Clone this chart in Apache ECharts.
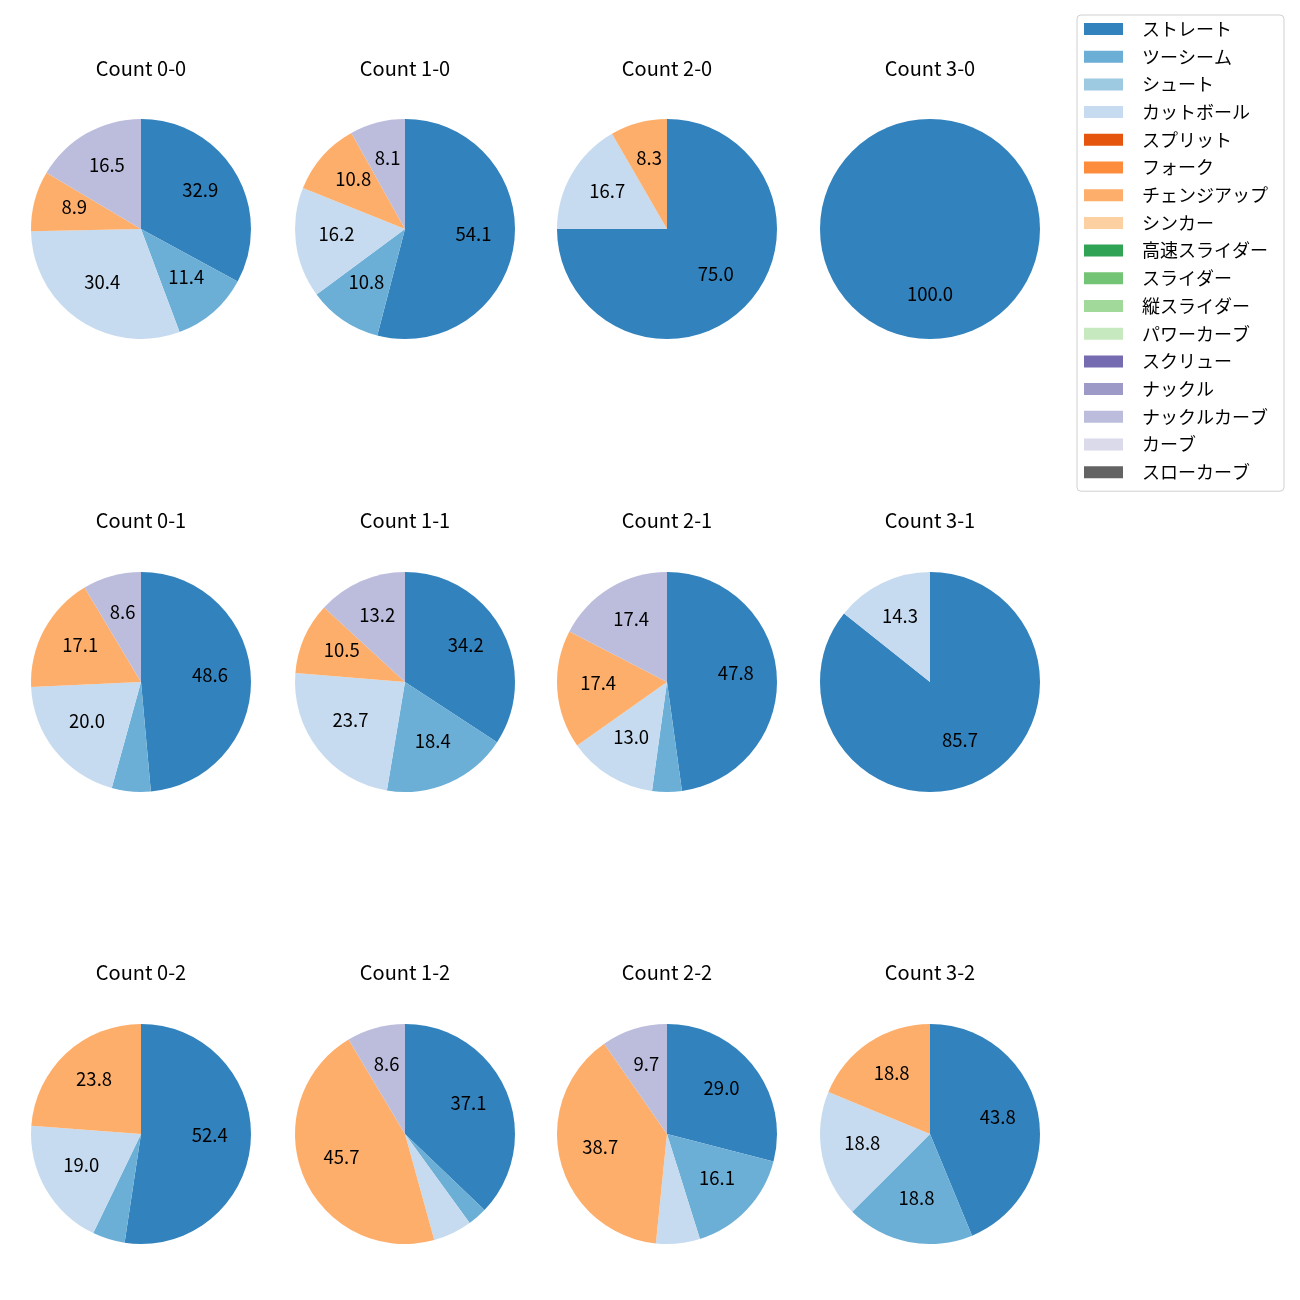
<!DOCTYPE html>
<html>
<head>
<meta charset="utf-8">
<script src="https://cdn.jsdelivr.net/npm/echarts@6/dist/echarts.min.js"></script>
<style>html,body{margin:0;padding:0;background:#fff}#c{width:1300px;height:1300px}</style>
</head>
<body>
<div id="c"></div>
<script>
const pitchTypes = ['ストレート','ツーシーム','シュート','カットボール','スプリット','フォーク','チェンジアップ','シンカー','高速スライダー','スライダー','縦スライダー','パワーカーブ','スクリュー','ナックル','ナックルカーブ','カーブ','スローカーブ'];
const pitchColors = ['#3182bd','#6baed6','#9ecae1','#c6dbef','#e6550d','#fd8d3c','#fdae6b','#fdd0a2','#31a354','#74c476','#a1d99b','#c7e9c0','#756bb1','#9e9ac8','#bcbddc','#dadaeb','#636363'];

// pitch counts per ball-strike count, in pitchTypes order
const count00 = [26,9,0,24,0,0,7,0,0,0,0,0,0,0,13,0,0];
const count10 = [20,4,0,6,0,0,4,0,0,0,0,0,0,0,3,0,0];
const count20 = [9,0,0,2,0,0,1,0,0,0,0,0,0,0,0,0,0];
const count30 = [5,0,0,0,0,0,0,0,0,0,0,0,0,0,0,0,0];
const count01 = [17,2,0,7,0,0,6,0,0,0,0,0,0,0,3,0,0];
const count11 = [13,7,0,9,0,0,4,0,0,0,0,0,0,0,5,0,0];
const count21 = [11,1,0,3,0,0,4,0,0,0,0,0,0,0,4,0,0];
const count31 = [6,0,0,1,0,0,0,0,0,0,0,0,0,0,0,0,0];
const count02 = [11,1,0,4,0,0,5,0,0,0,0,0,0,0,0,0,0];
const count12 = [13,1,0,2,0,0,16,0,0,0,0,0,0,0,3,0,0];
const count22 = [9,5,0,2,0,0,12,0,0,0,0,0,0,0,3,0,0];
const count32 = [7,3,0,3,0,0,3,0,0,0,0,0,0,0,0,0,0];

const panels = [
  {title:'Count 0-0', values:count00}, {title:'Count 1-0', values:count10}, {title:'Count 2-0', values:count20}, {title:'Count 3-0', values:count30},
  {title:'Count 0-1', values:count01}, {title:'Count 1-1', values:count11}, {title:'Count 2-1', values:count21}, {title:'Count 3-1', values:count31},
  {title:'Count 0-2', values:count02}, {title:'Count 1-2', values:count12}, {title:'Count 2-2', values:count22}, {title:'Count 3-2', values:count32}
];

const colX = [141, 405, 667, 930];
const rowY = [229, 682, 1134];
const titleY = [58, 510, 962];
const R = 110;
const FONT = 'Noto Sans CJK JP';

const titles = [];
const series = [];
panels.forEach((p, i) => {
  const col = i % 4, row = Math.floor(i / 4);
  const total = p.values.reduce((a, b) => a + b, 0);
  const data = p.values.map((v, k) => ({name: pitchTypes[k], value: v, itemStyle: {color: pitchColors[k]}}));
  titles.push({
    text: p.title, left: colX[col], top: titleY[row], textAlign: 'center', padding: 0,
    textStyle: {fontFamily: FONT, fontSize: 20, fontWeight: 'normal', color: '#000'}
  });
  series.push({
    type: 'pie', center: [colX[col], rowY[row]], radius: [0, R], startAngle: 90, clockwise: true,
    label: {show: false}, labelLine: {show: false}, silent: true, animation: false,
    emphasis: {disabled: true}, data: data
  });
  series.push({
    type: 'pie', center: [colX[col], rowY[row]], radius: [R * 0.2, R], startAngle: 90, clockwise: true,
    silent: true, animation: false, emphasis: {disabled: true},
    itemStyle: {color: 'rgba(0,0,0,0)'},
    labelLine: {show: false},
    labelLayout: {dy: -4},
    label: {
      show: true, position: 'inside', fontFamily: FONT, fontSize: 18.5, color: '#000',
      formatter: (q) => {
        const pct = q.value / total * 100;
        return pct >= 7 ? pct.toFixed(1) : '';
      }
    },
    data: p.values.map((v, k) => ({name: pitchTypes[k], value: v, itemStyle: {color: 'rgba(0,0,0,0)'}}))
  });
});

const chart = echarts.init(document.getElementById('c'), null, {renderer: 'canvas'});
chart.setOption({
  backgroundColor: '#fff',
  animation: false,
  title: titles,
  legend: {
    orient: 'vertical', left: 1077, top: 15,
    padding: [5, 16, 10, 7],
    borderColor: '#d0d0d0', borderWidth: 1, borderRadius: 4,
    itemWidth: 39, itemHeight: 12, itemGap: 9.7,
    icon: 'rect', selectedMode: false,
    textStyle: {fontFamily: FONT, fontSize: 18, color: '#000', padding: [0, 0, 0, 14], lineHeight: 18},
    data: pitchTypes.map((n, k) => ({name: n, itemStyle: {color: pitchColors[k]}}))
  },
  series: series
});
</script>
</body>
</html>
